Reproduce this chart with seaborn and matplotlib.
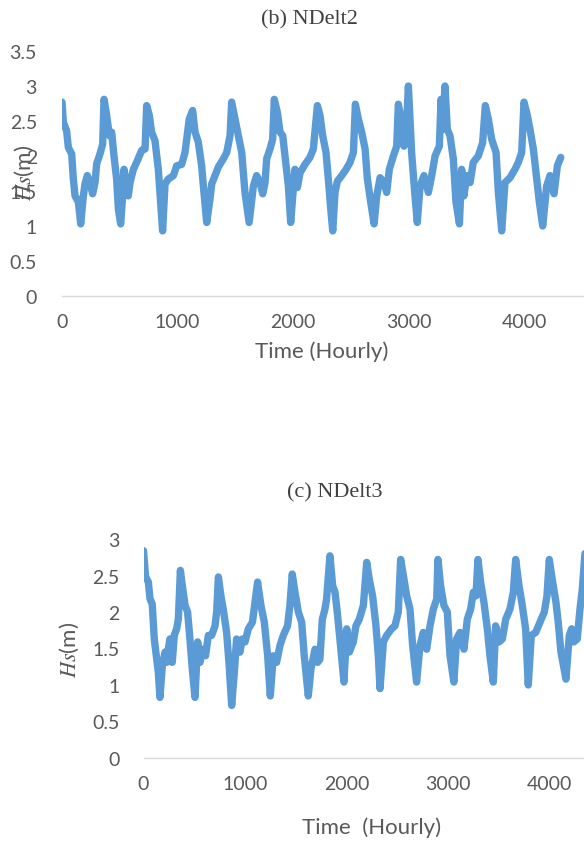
import matplotlib
matplotlib.use("Agg")
import matplotlib.pyplot as plt
import seaborn as sns

# Hs series (hour, metres)
hours_b = [0, 12, 40, 55, 84, 98, 113, 142, 162, 185, 199, 219, 242, 265, 286, 300, 329, 352,
           364, 387, 410, 430, 450, 473, 488, 508, 525, 537, 554, 574, 589, 618, 646, 690, 719,
           733, 756, 776, 805, 834, 854, 871, 892, 920, 964, 993, 1036, 1065, 1102, 1131, 1152,
           1180, 1209, 1229, 1253, 1281, 1296, 1325, 1353, 1397, 1426, 1455, 1469, 1498, 1527,
           1556, 1584, 1620, 1657, 1685, 1714, 1738, 1758, 1772, 1801, 1824, 1838, 1865, 1888,
           1911, 1931, 1960, 1980, 1998, 2017, 2038, 2061, 2104, 2147, 2176, 2211, 2234, 2257,
           2286, 2306, 2327, 2344, 2364, 2384, 2422, 2460, 2494, 2523, 2540, 2566, 2595, 2624,
           2644, 2673, 2702, 2725, 2754, 2788, 2811, 2834, 2869, 2898, 2912, 2941, 2961, 2984,
           2999, 3027, 3056, 3076, 3100, 3134, 3172, 3201, 3230, 3267, 3282, 3296, 3316, 3336,
           3359, 3388, 3411, 3441, 3460, 3480, 3504, 3533, 3561, 3604, 3642, 3665, 3691, 3720,
           3758, 3778, 3807, 3835, 3879, 3922, 3951, 3980, 4000, 4029, 4052, 4081, 4110, 4133,
           4162, 4196, 4225, 4260, 4289, 4318]
hs_b = [2.77, 2.48, 2.36, 2.12, 2.03, 1.67, 1.43, 1.34, 1.03, 1.43, 1.60, 1.72, 1.62, 1.46, 1.62,
        1.89, 2.03, 2.17, 2.81, 2.58, 2.29, 2.34, 2.00, 1.67, 1.24, 1.03, 1.43, 1.81, 1.58, 1.43,
        1.62, 1.81, 1.91, 2.08, 2.10, 2.72, 2.58, 2.34, 2.22, 1.81, 1.34, 0.93, 1.60, 1.67, 1.72,
        1.86, 1.88, 2.05, 2.53, 2.65, 2.34, 2.20, 1.86, 1.48, 1.05, 1.38, 1.60, 1.72, 1.84, 1.96,
        2.05, 2.29, 2.77, 2.53, 2.29, 2.05, 1.48, 1.05, 1.57, 1.72, 1.62, 1.46, 1.62, 1.96, 2.10,
        2.24, 2.81, 2.62, 2.34, 2.29, 2.00, 1.57, 1.05, 1.43, 1.81, 1.55, 1.76, 1.88, 1.98, 2.10,
        2.72, 2.58, 2.29, 2.05, 1.67, 1.24, 0.93, 1.48, 1.64, 1.72, 1.81, 1.91, 2.05, 2.74, 2.53,
        2.34, 2.10, 1.67, 1.34, 1.03, 1.43, 1.69, 1.62, 1.48, 1.81, 2.00, 2.14, 2.74, 2.48, 2.14,
        2.48, 3.00, 2.05, 1.43, 1.05, 1.57, 1.72, 1.48, 1.72, 2.00, 2.14, 2.81, 2.38, 3.00, 2.38,
        2.29, 1.96, 1.34, 1.03, 1.81, 1.43, 1.72, 1.62, 1.91, 2.00, 2.19, 2.72, 2.53, 2.24, 2.05,
        1.48, 0.93, 1.62, 1.69, 1.81, 1.91, 2.05, 2.77, 2.58, 2.38, 2.10, 1.67, 1.34, 1.00, 1.57,
        1.72, 1.46, 1.86, 1.98]

hours_c = [0, 21, 48, 64, 86, 106, 129, 146, 162, 185, 212, 228, 244, 260, 283, 303, 326, 343,
           363, 382, 409, 434, 457, 480, 507, 533, 556, 579, 611, 638, 671, 704, 720, 737, 762,
           785, 818, 841, 868, 894, 916, 949, 972, 999, 1032, 1072, 1097, 1123, 1156, 1189, 1222,
           1248, 1277, 1310, 1343, 1376, 1418, 1441, 1464, 1491, 1524, 1557, 1582, 1622, 1648,
           1688, 1714, 1736, 1760, 1786, 1802, 1835, 1862, 1885, 1907, 1933, 1973, 2000, 2025,
           2065, 2091, 2124, 2164, 2197, 2222, 2255, 2288, 2311, 2328, 2361, 2394, 2442, 2475,
           2508, 2531, 2558, 2590, 2623, 2649, 2688, 2721, 2754, 2787, 2820, 2853, 2886, 2898,
           2924, 2957, 2990, 3017, 3055, 3082, 3115, 3154, 3187, 3220, 3246, 3272, 3292, 3318,
           3351, 3384, 3410, 3443, 3466, 3499, 3532, 3565, 3607, 3640, 3663, 3696, 3728, 3761,
           3787, 3817, 3860, 3902, 3945, 3971, 3994, 4027, 4060, 4082, 4109, 4158, 4191, 4214,
           4236, 4269, 4296, 4319, 4345]
hs_c = [2.84, 2.48, 2.41, 2.18, 2.11, 1.63, 1.36, 1.17, 0.83, 1.26, 1.45, 1.31, 1.49, 1.63, 1.31,
        1.68, 1.77, 1.90, 2.57, 2.36, 2.09, 2.00, 1.63, 1.22, 0.83, 1.59, 1.31, 1.49, 1.40, 1.68,
        1.68, 1.81, 2.00, 2.48, 2.22, 2.04, 1.72, 1.31, 0.72, 1.17, 1.63, 1.45, 1.63, 1.59, 1.77,
        1.86, 2.13, 2.41, 2.09, 1.86, 1.40, 0.85, 1.40, 1.31, 1.54, 1.68, 1.81, 2.09, 2.52, 2.27,
        2.00, 1.86, 1.40, 0.85, 1.22, 1.49, 1.31, 1.35, 1.90, 2.04, 2.18, 2.77, 2.36, 2.27, 2.00,
        1.63, 1.04, 1.77, 1.45, 1.59, 1.81, 1.90, 2.09, 2.68, 2.45, 2.22, 1.81, 1.40, 0.95, 1.59,
        1.68, 1.77, 1.81, 2.00, 2.72, 2.50, 2.22, 2.04, 1.54, 1.04, 1.54, 1.72, 1.49, 1.81, 2.04,
        2.18, 2.72, 2.36, 2.09, 2.00, 1.40, 1.04, 1.63, 1.72, 1.49, 1.90, 2.04, 2.27, 2.22, 2.72,
        2.41, 2.13, 1.77, 1.40, 1.04, 1.81, 1.59, 1.63, 1.90, 2.04, 2.27, 2.72, 2.36, 2.09, 1.77,
        1.00, 1.68, 1.72, 1.86, 2.00, 2.22, 2.72, 2.41, 2.13, 1.86, 1.45, 1.08, 1.68, 1.77, 1.59,
        1.63, 2.04, 2.31, 2.80]

x_ticks = [0, 1000, 2000, 3000, 4000]
y_ticks_b = [0, 0.5, 1, 1.5, 2, 2.5, 3, 3.5]
y_ticks_c = [0, 0.5, 1, 1.5, 2, 2.5, 3]

sns.set_style("white")
plt.rcParams["font.family"] = ["Lato", "DejaVu Sans"]
plt.rcParams["mathtext.fontset"] = "stix"

LINE = "#5B9BD5"
GREY = "#595959"
W, H = 584, 845

fig = plt.figure(figsize=(W / 100, H / 100), dpi=100)

def style_axis(ax, yticks, ypad):
    # excel-like look: no y axis line, light grey x axis with small ticks
    ax.set_xlim(0, 5000)
    ax.set_ylim(0, yticks[-1])
    ax.set_xticks(x_ticks, [str(t) for t in x_ticks])
    ax.set_yticks(yticks, [f"{t:g}" for t in yticks])
    for side in ["left", "top", "right"]:
        ax.spines[side].set_visible(False)
    ax.spines["bottom"].set_color("#D9D9D9")
    ax.spines["bottom"].set_linewidth(1.0)
    ax.tick_params(axis="x", length=4, width=1.0, color="#D9D9D9",
                   labelsize=14, labelcolor=GREY, pad=8)
    ax.tick_params(axis="y", length=0, labelsize=14, labelcolor=GREY, pad=ypad)
    ax.set_xlabel("")
    ax.set_ylabel("")
    ax.grid(False)

# panel (b)
ax_b = fig.add_axes([62 / W, (H - 297) / H, 577.5 / W, 245 / H])
sns.lineplot(x=hours_b, y=hs_b, ax=ax_b, color=LINE, linewidth=5.3,
             estimator=None, sort=False)
style_axis(ax_b, y_ticks_b, 18)

# panel (c)
ax_c = fig.add_axes([143.5 / W, (H - 759) / H, 508 / W, 219 / H])
sns.lineplot(x=hours_c, y=hs_c, ax=ax_c, color=LINE, linewidth=5.3,
             estimator=None, sort=False)
style_axis(ax_c, y_ticks_c, 17)

serif = ["Liberation Serif", "DejaVu Serif"]
fig.text(309 / W, 1 - 20 / H, "(b) NDelt2", ha="center", va="center",
         fontsize=16, family=serif, color="#404040")
fig.text(335 / W, 1 - 493 / H, "(c) NDelt3", ha="center", va="center",
         fontsize=16, family=serif, color="#404040")

fig.text(322 / W, 1 - 352 / H, "Time (Hourly)", ha="center", va="center",
         fontsize=16, color=GREY)
fig.text(372 / W, 1 - 828 / H, "Time  (Hourly)", ha="center", va="center",
         fontsize=16, color=GREY)

fig.text(24 / W, 1 - 173 / H, r"$Hs$(m)", rotation=90, ha="center", va="center",
         fontsize=16, color=GREY)
fig.text(69 / W, 1 - 650 / H, r"$Hs$(m)", rotation=90, ha="center", va="center",
         fontsize=16, color=GREY)

fig.savefig("out.png", dpi=100)
plt.close(fig)
